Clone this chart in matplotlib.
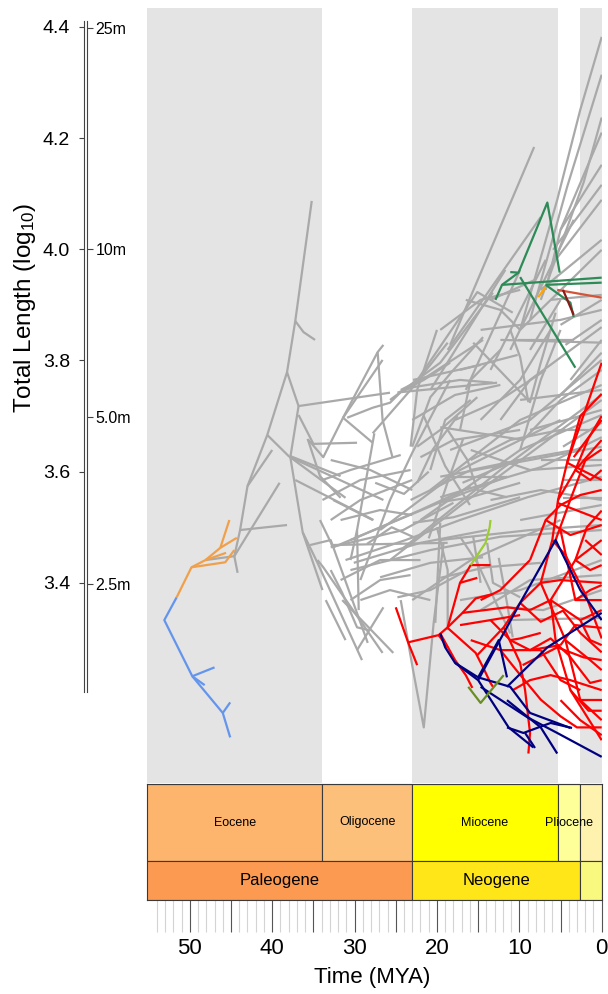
import matplotlib
matplotlib.use("Agg")
import matplotlib.pyplot as plt
from matplotlib.patches import Rectangle
import numpy as np

plt.rcParams['font.family'] = ['Liberation Sans', 'DejaVu Sans']
plt.rcParams['mathtext.fontset'] = 'custom'
plt.rcParams['mathtext.rm'] = 'Liberation Sans'
plt.rcParams['mathtext.it'] = 'Liberation Sans:italic'

# ---------------------------------------------------------------- data
# Branches of the traitgram: each path is a list of (age in MYA, log10 total length in mm)
blue_branches = [
    [(51.6, 3.374), (53.1, 3.333), (49.7, 3.232), (46.0, 3.166), (45.1, 3.122)],
    [(49.7, 3.232), (47.0, 3.248)],
    [(49.7, 3.232), (48.2, 3.216)],
    [(46.0, 3.166), (45.1, 3.185)],
]
orange_branches = [
    [(51.6, 3.374), (49.8, 3.428), (48.1, 3.441), (46.3, 3.463), (45.2, 3.513)],
    [(46.3, 3.463), (44.3, 3.481)],
    [(49.8, 3.428), (45.7, 3.437), (44.6, 3.459)],
    [(48.1, 3.441), (45.6, 3.454)],
]
gray_branches = [
    [(48.1, 3.441), (44.6, 3.448), (44.2, 3.418)],
    [(44.6, 3.448), (43.9, 3.495), (43.0, 3.574), (40.6, 3.666), (38.2, 3.779), (37.2, 3.871), (35.2, 4.087)],
    [(43.9, 3.495), (38.2, 3.504)],
    [(43.0, 3.574), (40.0, 3.639)],
    [(44.6, 3.448), (39.1, 3.580)],
    [(40.6, 3.666), (38.0, 3.628), (31.1, 3.553)],
    [(38.2, 3.779), (36.8, 3.718), (25.7, 3.742)],
    [(36.8, 3.718), (37.8, 3.626), (36.3, 3.491), (33.9, 3.387)],
    [(37.2, 3.871), (36.2, 3.851), (34.8, 3.837)],
    [(36.8, 3.702), (35.0, 3.650), (29.7, 3.652)],
    [(35.7, 3.659), (34.2, 3.592), (31.7, 3.553)],
    [(37.8, 3.628), (31.7, 3.592)],
    [(37.8, 3.626), (26.5, 3.549)],
    [(37.2, 3.585), (27.7, 3.513)],
    [(35.6, 3.657), (33.8, 3.626), (31.4, 3.697), (26.6, 3.801)],
    [(31.4, 3.697), (27.2, 3.815), (26.5, 3.828)],
    [(27.2, 3.815), (26.6, 3.693), (25.4, 3.626)],
    [(30.9, 3.697), (27.8, 3.715), (25.7, 3.724), (24.4, 3.743), (21.6, 3.765), (18.4, 3.796)],
    [(31.4, 3.697), (27.8, 3.652)],
    [(30.5, 3.441), (29.7, 3.495), (27.6, 3.669)],
    [(36.3, 3.491), (34.5, 3.436), (29.1, 3.261)],
    [(35.4, 3.468), (32.9, 3.477), (28.4, 3.292)],
    [(32.9, 3.468), (18.7, 3.472)],
    [(34.5, 3.441), (33.8, 3.428), (26.6, 3.274)],
    [(32.9, 3.423), (31.5, 3.382), (29.7, 3.320), (28.3, 3.315)],
    [(31.5, 3.369), (25.3, 3.274)],
    [(34.2, 3.513), (32.6, 3.464), (19.6, 3.545), (11.5, 3.591)],
    [(32.6, 3.549), (27.8, 3.513)],
    [(29.7, 3.495), (29.5, 3.351)],
    [(29.3, 3.405), (25.7, 3.549), (23.0, 3.634), (18.4, 3.765)],
    [(30.5, 3.477), (22.0, 3.531), (15.9, 3.573)],
    [(31.1, 3.441), (23.8, 3.477), (17.2, 3.513), (9.0, 3.554), (0.0, 3.591)],
    [(30.5, 3.423), (20.8, 3.459), (12.3, 3.483), (0.0, 3.495)],
    [(24.4, 3.369), (22.9, 3.243), (21.6, 3.140), (20.4, 3.328), (19.2, 3.472)],
    [(27.8, 3.669), (23.2, 3.747), (18.7, 3.832)],
    [(25.7, 3.729), (19.6, 3.796), (13.2, 3.922)],
    [(23.2, 3.747), (15.1, 3.923), (10.8, 3.886)],
    [(24.4, 3.747), (21.2, 3.771), (14.4, 3.837)],
    [(24.4, 3.743), (12.7, 3.760)],
    [(22.9, 3.765), (14.7, 3.792)],
    [(22.4, 3.645), (19.6, 3.675), (15.1, 3.734)],
    [(17.2, 3.783), (10.2, 3.810)],
    [(15.6, 3.832), (8.7, 3.725), (7.4, 3.796), (5.6, 3.886)],
    [(13.5, 3.909), (8.1, 3.945)],
    [(10.2, 3.837), (3.4, 3.837)],
    [(19.6, 3.680), (9.5, 3.657), (5.0, 3.729), (0.0, 3.783)],
    [(5.3, 3.733), (0.0, 3.814)],
    [(4.7, 3.645), (0.0, 3.688)],
    [(19.6, 3.591), (0.0, 3.645)],
    [(19.6, 3.554), (7.4, 3.608), (0.0, 3.662)],
    [(4.7, 3.585), (0.0, 3.585)],
    [(4.7, 3.553), (0.0, 3.553)],
    [(8.9, 3.725), (9.9, 3.806), (11.1, 3.855)],
    [(11.5, 3.333), (0.0, 3.337)],
    [(11.5, 3.356), (7.1, 3.351), (0.0, 3.387)],
    [(19.6, 3.409), (14.1, 3.428), (7.4, 3.436)],
    [(12.5, 3.445), (11.5, 3.364), (10.8, 3.302)],
    [(9.9, 3.855), (5.4, 4.089), (2.6, 4.251), (0.0, 4.382)],
    [(8.7, 3.873), (4.2, 4.112), (0.0, 4.314)],
    [(7.4, 3.909), (2.2, 4.120), (0.0, 4.237)],
    [(6.8, 3.927), (5.0, 4.035), (0.0, 4.210)],
    [(18.4, 3.828), (8.2, 4.184)],
    [(5.0, 4.035), (0.0, 4.152)],
    [(5.9, 3.999), (0.0, 4.116)],
    [(5.6, 3.981), (1.4, 4.062), (0.0, 4.089)],
    [(7.4, 3.927), (0.0, 4.017)],
    [(9.9, 3.855), (0.0, 3.999)],
    [(6.2, 3.909), (0.0, 3.918)],
    [(5.0, 3.864), (0.0, 3.909)],
    [(4.4, 3.828), (0.0, 3.873)],
    [(3.8, 3.765), (0.0, 3.837)],
    [(14.7, 3.855), (5.0, 3.873), (0.0, 3.891)],
    [(9.9, 3.729), (0.0, 3.747)],
    [(8.7, 3.675), (0.0, 3.711)],
    [(7.4, 3.621), (0.0, 3.621)],
    [(9.9, 3.513), (0.0, 3.540)],
    [(15.9, 3.639), (8.7, 3.603), (0.0, 3.612)],
    [(18.7, 3.819), (7.4, 4.058)],
    [(11.1, 3.819), (3.4, 4.053)],
    [(12.3, 3.837), (0.0, 3.832)],
    [(25.7, 3.441), (14.7, 3.567), (0.0, 3.729)],
    [(24.4, 3.459), (12.3, 3.603), (0.0, 3.738)],
    [(22.0, 3.513), (9.9, 3.639), (0.0, 3.702)],
    [(26.9, 3.495), (17.2, 3.603), (5.0, 3.693)],
    [(20.8, 3.567), (9.9, 3.693), (0.0, 3.756)],
    [(18.4, 3.639), (8.7, 3.693), (0.0, 3.801)],
    [(23.0, 3.369), (15.9, 3.441), (5.0, 3.513)],
    [(19.6, 3.477), (8.7, 3.495), (0.0, 3.504)],
    [(17.2, 3.369), (9.9, 3.387), (0.0, 3.441)],
    [(14.7, 3.351), (8.7, 3.405), (0.0, 3.414)],
    [(9.9, 3.639), (7.4, 3.765), (5.0, 3.855)],
    [(14.7, 3.693), (9.9, 3.765), (6.2, 3.855)],
    [(17.2, 3.675), (15.9, 3.765), (12.3, 3.819)],
    [(20.8, 3.603), (19.0, 3.693), (15.9, 3.729)],
    [(23.0, 3.693), (17.8, 3.738), (12.3, 3.756)],
    [(20.8, 3.747), (11.7, 3.963)],
    [(16.5, 3.747), (9.9, 3.963)],
    [(13.5, 3.783), (6.8, 3.981)],
    [(33.9, 3.585), (30.5, 3.603), (24.4, 3.630)],
    [(32.9, 3.513), (29.3, 3.549), (23.0, 3.585)],
    [(31.7, 3.405), (26.9, 3.441), (22.0, 3.441)],
    [(29.3, 3.369), (25.7, 3.387), (20.8, 3.369)],
    [(23.2, 3.645), (22.4, 3.747), (20.0, 3.855)],
    [(23.2, 3.549), (15.9, 3.603), (9.9, 3.621)],
    [(19.6, 3.508), (20.2, 3.328)],
    [(23.0, 3.645), (20.8, 3.734), (18.0, 3.783), (14.4, 3.842)],
    [(22.0, 3.626), (18.0, 3.657), (9.9, 3.675)],
    [(24.8, 3.742), (22.9, 3.752), (17.2, 3.765), (13.2, 3.760)],
    [(18.7, 3.675), (16.3, 3.621), (15.1, 3.567), (11.5, 3.554)],
    [(18.0, 3.591), (11.5, 3.591)],
    [(20.0, 3.544), (15.9, 3.554), (9.9, 3.580)],
    [(22.9, 3.508), (18.0, 3.518), (9.9, 3.554)],
    [(32.9, 3.464), (24.1, 3.495), (18.0, 3.544)],
    [(30.1, 3.436), (22.0, 3.472), (13.9, 3.495)],
    [(26.9, 3.410), (20.8, 3.436), (14.4, 3.446)],
    [(24.8, 3.374), (20.8, 3.387), (16.3, 3.423)],
    [(20.0, 3.500), (18.7, 3.423), (18.7, 3.315)],
    [(17.2, 3.483), (15.1, 3.436), (11.1, 3.309)],
    [(15.6, 3.483), (14.7, 3.400)],
    [(13.9, 3.472), (13.2, 3.400), (9.9, 3.374)],
    [(29.7, 3.279), (26.5, 3.356)],
    [(33.9, 3.549), (29.3, 3.585), (23.2, 3.603)],
    [(32.9, 3.621), (28.1, 3.603), (23.0, 3.567)],
    [(31.7, 3.513), (26.9, 3.531), (23.0, 3.522)],
    [(30.5, 3.369), (26.9, 3.405), (23.2, 3.414)],
    [(33.5, 3.369), (31.1, 3.297)],
    [(19.6, 3.855), (14.7, 3.909), (9.9, 3.927)],
    [(17.8, 3.693), (12.3, 3.729), (6.8, 3.783)],
    [(16.5, 3.909), (12.3, 3.891), (9.9, 3.855)],
    [(15.9, 3.621), (11.1, 3.657), (5.0, 3.675), (0.0, 3.675)],
    [(13.5, 3.549), (7.4, 3.567), (0.0, 3.549)],
    [(8.7, 3.819), (5.0, 3.909)],
    [(12.3, 3.693), (8.7, 3.765), (0.0, 3.860)],
    [(16.9, 3.580), (10.5, 3.620), (3.0, 3.640)],
    [(21.6, 3.700), (19.0, 3.610), (16.0, 3.540)],
    [(22.4, 3.580), (20.5, 3.640), (17.5, 3.700)],
    [(21.0, 3.480), (18.5, 3.590), (16.8, 3.660)],
    [(27.5, 3.580), (24.0, 3.560), (21.0, 3.600)],
    [(28.5, 3.470), (25.5, 3.500), (22.5, 3.480)],
]
red_branches = [
    [(25.0, 3.356), (23.5, 3.293), (22.4, 3.252)],
    [(23.5, 3.293), (19.8, 3.306), (18.7, 3.320), (17.2, 3.400), (15.9, 3.432), (13.5, 3.432)],
    [(17.2, 3.400), (15.1, 3.409)],
    [(18.7, 3.320), (16.9, 3.346), (11.5, 3.356), (8.7, 3.351)],
    [(19.8, 3.306), (18.7, 3.284)],
    [(19.6, 3.309), (17.8, 3.261), (16.5, 3.234), (15.7, 3.211)],
    [(18.7, 3.319), (15.3, 3.274), (14.4, 3.248), (13.5, 3.220), (13.2, 3.213)],
    [(15.1, 3.270), (11.9, 3.320), (9.9, 3.364), (7.4, 3.400), (6.0, 3.477), (5.3, 3.549), (4.2, 3.616), (0.0, 3.796)],
    [(7.4, 3.400), (5.0, 3.405), (0.0, 3.400)],
    [(11.9, 3.320), (9.9, 3.256), (9.3, 3.207), (8.7, 3.130), (8.9, 3.093)],
    [(9.6, 3.252), (5.4, 3.284), (2.2, 3.266), (0.0, 3.261)],
    [(5.3, 3.549), (3.2, 3.603), (0.0, 3.657)],
    [(4.2, 3.616), (0.0, 3.585)],
    [(5.4, 3.544), (0.0, 3.513)],
    [(8.7, 3.351), (6.2, 3.369), (3.2, 3.441), (0.0, 3.477)],
    [(6.2, 3.369), (2.6, 3.333), (0.0, 3.351)],
    [(3.2, 3.441), (1.4, 3.423), (0.0, 3.432)],
    [(7.4, 3.400), (4.4, 3.297), (1.4, 3.261), (0.0, 3.243)],
    [(4.4, 3.297), (2.6, 3.189), (0.0, 3.153)],
    [(2.6, 3.189), (0.0, 3.189)],
    [(5.0, 3.495), (3.2, 3.369), (0.0, 3.369)],
    [(6.2, 3.369), (5.6, 3.297), (3.8, 3.207), (0.0, 3.117)],
    [(8.7, 3.441), (6.8, 3.513), (5.0, 3.540), (2.6, 3.558), (0.0, 3.567)],
    [(6.8, 3.513), (3.8, 3.486), (0.0, 3.504)],
    [(14.7, 3.369), (12.3, 3.387), (8.7, 3.441)],
    [(17.2, 3.324), (13.5, 3.333), (9.9, 3.342)],
    [(13.5, 3.333), (11.1, 3.297), (8.7, 3.279), (5.0, 3.288)],
    [(15.9, 3.297), (12.3, 3.279), (7.4, 3.279)],
    [(10.8, 3.207), (8.7, 3.225), (6.2, 3.234), (3.8, 3.225), (0.0, 3.207)],
    [(7.4, 3.279), (5.0, 3.225), (2.6, 3.207)],
    [(3.2, 3.603), (1.4, 3.585), (0.0, 3.603)],
    [(2.6, 3.333), (1.4, 3.297), (0.0, 3.288)],
    [(5.0, 3.288), (3.2, 3.324), (0.0, 3.319)],
    [(2.0, 3.477), (0.0, 3.450)],
    [(3.2, 3.369), (1.4, 3.387), (0.0, 3.396)],
    [(3.4, 3.626), (0.0, 3.693)],
    [(5.0, 3.189), (2.6, 3.153), (0.0, 3.126)],
    [(5.6, 3.477), (3.8, 3.550), (2.0, 3.620), (0.0, 3.640)],
    [(4.2, 3.616), (2.6, 3.700), (0.0, 3.740)],
    [(3.2, 3.441), (1.8, 3.500), (0.0, 3.530)],
    [(6.0, 3.477), (4.4, 3.450), (2.0, 3.380), (0.0, 3.300)],
    [(9.9, 3.364), (7.4, 3.330), (4.7, 3.350), (2.6, 3.310), (0.0, 3.275)],
    [(8.7, 3.279), (6.2, 3.300), (4.0, 3.270), (1.4, 3.220), (0.0, 3.225)],
    [(12.3, 3.279), (10.2, 3.240), (7.4, 3.190), (5.0, 3.160), (3.0, 3.140), (0.0, 3.140)],
    [(3.8, 3.207), (1.6, 3.170), (0.0, 3.170)],
    [(11.1, 3.297), (9.9, 3.300), (7.4, 3.310)],
    [(3.2, 3.603), (1.6, 3.660), (0.0, 3.700)],
    [(16.9, 3.346), (15.3, 3.372), (13.2, 3.380)],
]
navy_branches = [
    [(19.6, 3.309), (19.0, 3.284), (17.8, 3.256), (15.0, 3.230), (11.1, 3.213), (8.7, 3.166), (3.8, 3.139)],
    [(17.8, 3.256), (15.0, 3.225), (11.3, 3.140), (8.3, 3.104)],
    [(15.0, 3.230), (12.5, 3.297), (11.5, 3.230)],
    [(15.0, 3.225), (13.5, 3.266), (9.9, 3.364), (5.6, 3.477), (2.6, 3.387), (0.0, 3.333)],
    [(11.5, 3.213), (6.6, 3.284), (0.0, 3.346)],
    [(14.7, 3.213), (9.0, 3.158), (5.4, 3.130), (0.0, 3.087)],
    [(11.5, 3.140), (9.5, 3.130), (6.2, 3.148), (3.6, 3.139)],
    [(11.5, 3.189), (7.4, 3.140), (5.4, 3.093)],
    [(9.3, 3.130), (8.1, 3.103)],
]
green_branches = [
    [(12.9, 3.909), (12.1, 3.936), (10.1, 3.958), (6.6, 4.084), (5.1, 3.958)],
    [(10.1, 3.958), (11.1, 3.959)],
    [(12.1, 3.936), (0.0, 3.949)],
    [(9.9, 3.950), (3.2, 3.787)],
    [(6.8, 3.936), (3.8, 3.904), (3.4, 3.878)],
    [(6.8, 3.936), (0.0, 3.940)],
]
tomato_branches = [[(5.4, 3.927), (0.0, 3.913)]]
amber_branches = [[(7.7, 3.914), (6.8, 3.932)]]
darkred_branches = [[(4.7, 3.927), (3.4, 3.882)]]
yellowgreen_branches = [[(15.9, 3.432), (14.1, 3.472), (13.6, 3.500), (13.5, 3.513)]]
olive_branches = [[(16.2, 3.213), (14.7, 3.184), (11.9, 3.234)]]

# Geological time scale (MYA)
epoch_names = ['Eocene', 'Oligocene', 'Miocene', 'Pliocene', 'Pleistocene']
epoch_start = [56.0, 33.9, 23.03, 5.333, 2.58]
epoch_end = [33.9, 23.03, 5.333, 2.58, 0.0]
epoch_colors = ['#FDB46C', '#FDC07A', '#FFFF00', '#FFFF99', '#FFF2AE']
epoch_labelled = [True, True, True, True, False]

period_names = ['Paleogene', 'Neogene', 'Quaternary']
period_start = [66.0, 23.03, 2.58]
period_end = [23.03, 2.58, 0.0]
period_colors = ['#FD9A52', '#FFE619', '#F9F97F']
period_labelled = [True, True, False]

band_start = [56.0, 23.03, 2.58]
band_end = [33.9, 5.333, 0.0]

y_ticks = [3.4, 3.6, 3.8, 4.0, 4.2, 4.4]
y_ticklabels = ['3.4', '3.6', '3.8', '4.0', '4.2', '4.4']
size_m = [25, 10, 5.0, 2.5]
size_labels = ['25m', '10m', '5.0m', '2.5m']
x_major = [50, 45, 40, 35, 30, 25, 20, 15, 10, 5, 0]
x_major_labels = ['50', '', '40', '', '30', '', '20', '', '10', '', '0']
x_minor = [t for t in range(1, 55) if t % 5 != 0]

# ---------------------------------------------------------------- layout
W, H, DPI = 608, 994, 100
T_LEFT, T_RIGHT = 55.2, 0.0
Y_LO, Y_HI = 3.040, 4.434


def px_box(x0, y0, x1, y1):
    return [x0 / W, 1 - y1 / H, (x1 - x0) / W, (y1 - y0) / H]


fig = plt.figure(figsize=(W / DPI, H / DPI), dpi=DPI)
fig.patch.set_facecolor('white')

ax = fig.add_axes(px_box(147, 8, 601.7, 783))
for s, e in zip(band_start, band_end):
    ax.axvspan(s, e, color='#E4E4E4', lw=0, zorder=0)


def draw(chains, color, z):
    for ch in chains:
        a = np.asarray(ch)
        ax.plot(a[:, 0], a[:, 1], color=color, lw=1.6, zorder=z,
                solid_capstyle='butt', solid_joinstyle='round')


draw(gray_branches, '#A9A9A9', 2)
draw(blue_branches, '#6495ED', 3)
draw(orange_branches, '#F0A04B', 3)
draw(red_branches, '#FF0000', 3)
draw(navy_branches, '#000080', 4)
draw(olive_branches, '#6B8E23', 4)
draw(yellowgreen_branches, '#9ACD32', 4)
draw(green_branches, '#2E8B57', 4)
draw(tomato_branches, '#D2553A', 4)
draw(amber_branches, '#FFA500', 5)
draw(darkred_branches, '#8B1A1A', 5)
ax.set_xlim(T_LEFT, T_RIGHT)
ax.set_ylim(Y_LO, Y_HI)
ax.axis('off')

# ---------------------------------------------------------------- time scale
ts = fig.add_axes(px_box(147, 784, 601.7, 900))
ts.set_xlim(T_LEFT, T_RIGHT)
ts.set_ylim(0, 116)
edge = '#3A3A3A'
for name, s, e, c, lab in zip(epoch_names, epoch_start, epoch_end, epoch_colors, epoch_labelled):
    ts.add_patch(Rectangle((e, 39), s - e, 77, facecolor=c, edgecolor=edge, lw=0.8))
    if lab:
        mid = (min(s, T_LEFT) + e) / 2
        ts.text(mid, 77.5, name, ha='center', va='center', fontsize=9)
for name, s, e, c, lab in zip(period_names, period_start, period_end, period_colors, period_labelled):
    ts.add_patch(Rectangle((e, 0), s - e, 39, facecolor=c, edgecolor=edge, lw=0.8))
    if lab:
        mid = (min(s, T_LEFT) + e) / 2
        ts.text(mid, 19.5, name, ha='center', va='center', fontsize=12)
for sp in ts.spines.values():
    sp.set_color(edge)
    sp.set_linewidth(0.8)
ts.set_yticks([])
ts.set_xticks(x_major)
ts.set_xticklabels(x_major_labels)
ts.set_xticks(x_minor, minor=True)
ts.tick_params(axis='x', which='major', direction='out', length=23, width=0.8,
               color='#555555', labelsize=16, pad=4)
ts.tick_params(axis='x', which='minor', direction='out', length=23, width=0.8,
               color='#D4D4D4')
fig.text(372 / W, 1 - 978 / H, 'Time (MYA)', ha='center', va='center', fontsize=16)

# ---------------------------------------------------------------- value axes
ya = fig.add_axes(px_box(83.5, 8, 87.0, 783))
ya.set_ylim(Y_LO, Y_HI)
ya.patch.set_alpha(0)
for s in ['top', 'bottom', 'right']:
    ya.spines[s].set_visible(False)
ya.spines['left'].set_bounds(3.204, 4.41)
ya.spines['left'].set_color('#444444')
ya.spines['left'].set_linewidth(0.8)
ya.set_xticks([])
ya.set_yticks(y_ticks)
ya.set_yticklabels(y_ticklabels)
ya.tick_params(axis='y', direction='out', length=3.6, width=0.8, color='#444444',
               labelsize=14, pad=6)

yb = ya.twinx()
yb.set_ylim(Y_LO, Y_HI)
yb.patch.set_alpha(0)
for s in ['top', 'bottom', 'left']:
    yb.spines[s].set_visible(False)
yb.spines['right'].set_bounds(3.204, 4.41)
yb.spines['right'].set_color('#444444')
yb.spines['right'].set_linewidth(0.8)
yb.set_yticks([np.log10(m * 1000) for m in size_m])
yb.set_yticklabels(size_labels)
yb.tick_params(axis='y', direction='out', length=4.3, width=0.8, color='#444444',
               labelsize=11.5, pad=2)

fig.text(25 / W, 1 - 308 / H, r'Total Length (log$_{\mathrm{10}}$)', rotation=90,
         ha='center', va='center', fontsize=17.5)

fig.savefig('out.png', dpi=DPI, facecolor='white')
